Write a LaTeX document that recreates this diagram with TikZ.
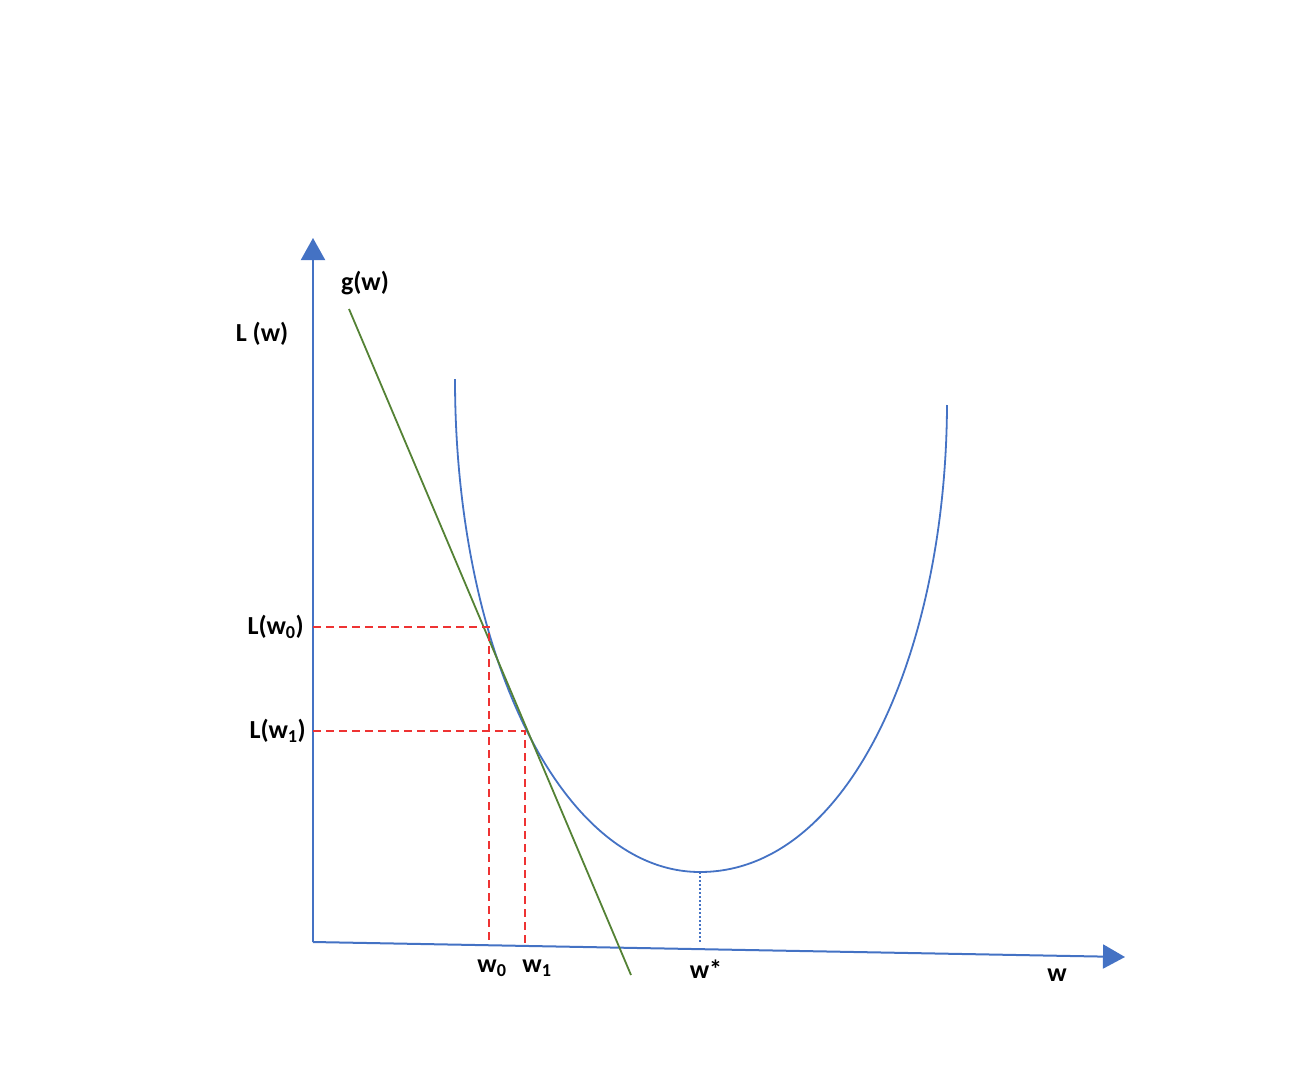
\documentclass[tikz,border=0pt]{standalone}
\usepackage{fontspec}
\setmainfont{Carlito}
\usetikzlibrary{arrows.meta,positioning}

\definecolor{axisblue}{HTML}{4472C4}
\definecolor{tangreen}{HTML}{548235}
\definecolor{guidered}{HTML}{EE3333}

\begin{document}
\begin{tikzpicture}[x=1pt,y=-1pt,>={Triangle[width=24pt,length=22pt]},
  axis/.style={draw=axisblue,line width=2pt},
  lbl/.style={font=\fontsize{26}{29}\selectfont\bfseries,inner sep=1pt},
  guide/.style={draw=guidered,line width=1.5pt,dash pattern=on 8pt off 5pt}]
\useasboundingbox (0,0) rectangle (1312,1076);

% axes
\coordinate (O) at (313,942);
\coordinate (ytip) at (313,238);
\coordinate (xtip) at (1125,957);
\draw[axis,->] (O) -- (ytip);
\draw[axis,->] (O) -- (xtip);

% points on the curve and their feet
\coordinate (p0) at (489,627);
\coordinate (p1) at (525,731);
\coordinate (pmin) at (700,872);
\coordinate (l0) at (313,627);
\coordinate (l1) at (313,731);
\coordinate (f0) at (489,942);
\coordinate (f1) at (525,944);
\coordinate (fmin) at (700,943);

% loss curve
\draw[axisblue,line width=1.8pt] (455,379) .. controls (455,650) and (560,872) .. (pmin)
  .. controls (850,872) and (946,650) .. (947,405);

% line g(w)
\coordinate (gtop) at (349,309);
\coordinate (gbot) at (631,975);
\draw[tangreen,line width=1.8pt] (gtop) -- (gbot);

% guides
\draw[guide] (l0) -- (p0) -- (f0);
\draw[guide] (l1) -- (p1) -- (f1);
\draw[axisblue,line width=1.5pt,dash pattern=on 2pt off 2pt] (pmin) -- (fmin);

% labels
\node[lbl] (gw) at (365,283) {g(w)};
\node[lbl] (Lw) at (262,334) {L (w)};
\node[lbl,anchor=east] (Lw0) at (305,627) {L(w\textsubscript{0})};
\node[lbl,anchor=east] (Lw1) at (307,731) {L(w\textsubscript{1})};
\node[lbl] (w0) at (492,968) {w\textsubscript{0}};
\node[lbl] (w1) at (537,968) {w\textsubscript{1}};
\node[lbl] (wstar) at (706,969) {w*};
\node[lbl] (w) at (1057,975) {w};
\end{tikzpicture}
\end{document}
